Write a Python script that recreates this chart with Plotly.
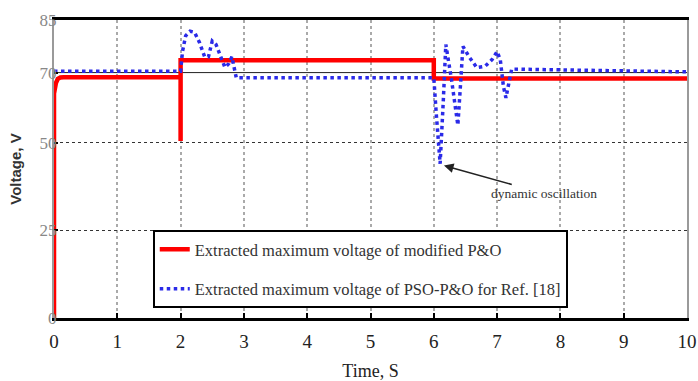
import plotly.graph_objects as go

# Modified P&O: extracted maximum voltage (time in s, voltage in V)
red_t = [0.0, 0.0, 0.03, 0.06, 0.1, 0.15, 2.0, 2.0, 2.0, 6.0, 6.0, 10.0]
red_v = [0.0, 64.0, 67.0, 68.2, 68.6, 68.7, 68.7, 50.5, 73.5, 73.5, 68.3, 68.3]

# PSO-P&O (Ref. [18]): extracted maximum voltage
blue_t = [0.0, 2.0, 2.03, 2.08, 2.15, 2.22, 2.3, 2.38, 2.44, 2.5, 2.56, 2.63,
          2.7, 2.76, 2.81, 2.88, 6.0, 6.04, 6.1, 6.15, 6.19, 6.28, 6.38, 6.42,
          6.46, 6.55, 6.68, 6.81, 6.92, 7.0, 7.05, 7.1, 7.14, 7.18, 7.23, 10.0]
blue_v = [70.4, 70.4, 76.0, 80.5, 81.8, 81.5, 78.5, 74.5, 74.5, 79.0, 78.0, 74.5,
          71.5, 72.5, 74.5, 68.5, 68.5, 58.0, 44.0, 62.0, 78.0, 68.0, 55.0, 66.0,
          77.5, 74.7, 71.4, 71.8, 73.7, 76.0, 73.7, 66.0, 62.8, 66.5, 71.0, 70.2]

x_ticks = list(range(0, 11))
y_ticks = [0, 25, 50, 70, 85]

serif = "Liberation Serif"

fig = go.Figure()
fig.add_trace(go.Scatter(
    x=red_t, y=red_v, mode="lines",
    name="Extracted maximum voltage of modified P&O",
    line=dict(color="#ff0000", width=4.5),
    legendgroup="a",
))
fig.add_trace(go.Scatter(
    x=blue_t, y=blue_v, mode="lines",
    name="Extracted maximum voltage of PSO-P&O for Ref. [18]",
    line=dict(color="#2a2ae8", width=3.5, dash="dot"),
    legendgroup="b",
))

# solid reference line at 70 V
fig.add_hline(y=70, line=dict(color="#222222", width=1), layer="below")

fig.add_annotation(
    x=6.16, y=43.5, xref="x", yref="y",
    text="dynamic oscillation",
    showarrow=True, arrowhead=2, arrowsize=1.2, arrowwidth=1.6,
    arrowcolor="#222222", ax=100, ay=28,
    font=dict(family=serif, size=13.5, color="#333333"),
)

fig.update_layout(
    width=698, height=381,
    margin=dict(l=54, r=11, t=20, b=63, autoexpand=False),
    paper_bgcolor="white", plot_bgcolor="white",
    showlegend=True,
    legend=dict(
        x=0.156, y=0.295, xanchor="left", yanchor="top",
        bgcolor="white", bordercolor="black", borderwidth=2,
        font=dict(family=serif, size=16.5, color="#333333"),
        tracegroupgap=15, itemwidth=30,
    ),
    xaxis=dict(
        range=[0, 10], tickvals=x_ticks, automargin=False,
        showline=True, linecolor="black", linewidth=2.5, mirror=True,
        ticks="inside", ticklen=5, tickcolor="black", tickwidth=1.5,
        showgrid=True, gridcolor="#aaaaaa", gridwidth=2, griddash="dot",
        zeroline=False,
        ticklabelstandoff=4,
        tickfont=dict(family=serif, size=19, color="#222222"),
        title=dict(text="Time, S", font=dict(family=serif, size=18, color="#222222"),
                   standoff=14),
    ),
    yaxis=dict(
        range=[0, 85], tickvals=y_ticks, automargin=False,
        showline=True, linecolor="#9a9a9a", linewidth=2, mirror=True,
        ticks="inside", ticklen=4, tickcolor="black", tickwidth=1.5,
        showgrid=True, gridcolor="#333333", gridwidth=1, griddash="dot",
        zeroline=False,
        ticklabelstandoff=-8,
        tickfont=dict(family=serif, size=17, color="#888888"),
        title=dict(text="<b>Voltage, V</b>",
                   font=dict(family="Liberation Sans", size=15, color="#333333"),
                   standoff=14),
    ),
)

fig.write_html("out.html")
